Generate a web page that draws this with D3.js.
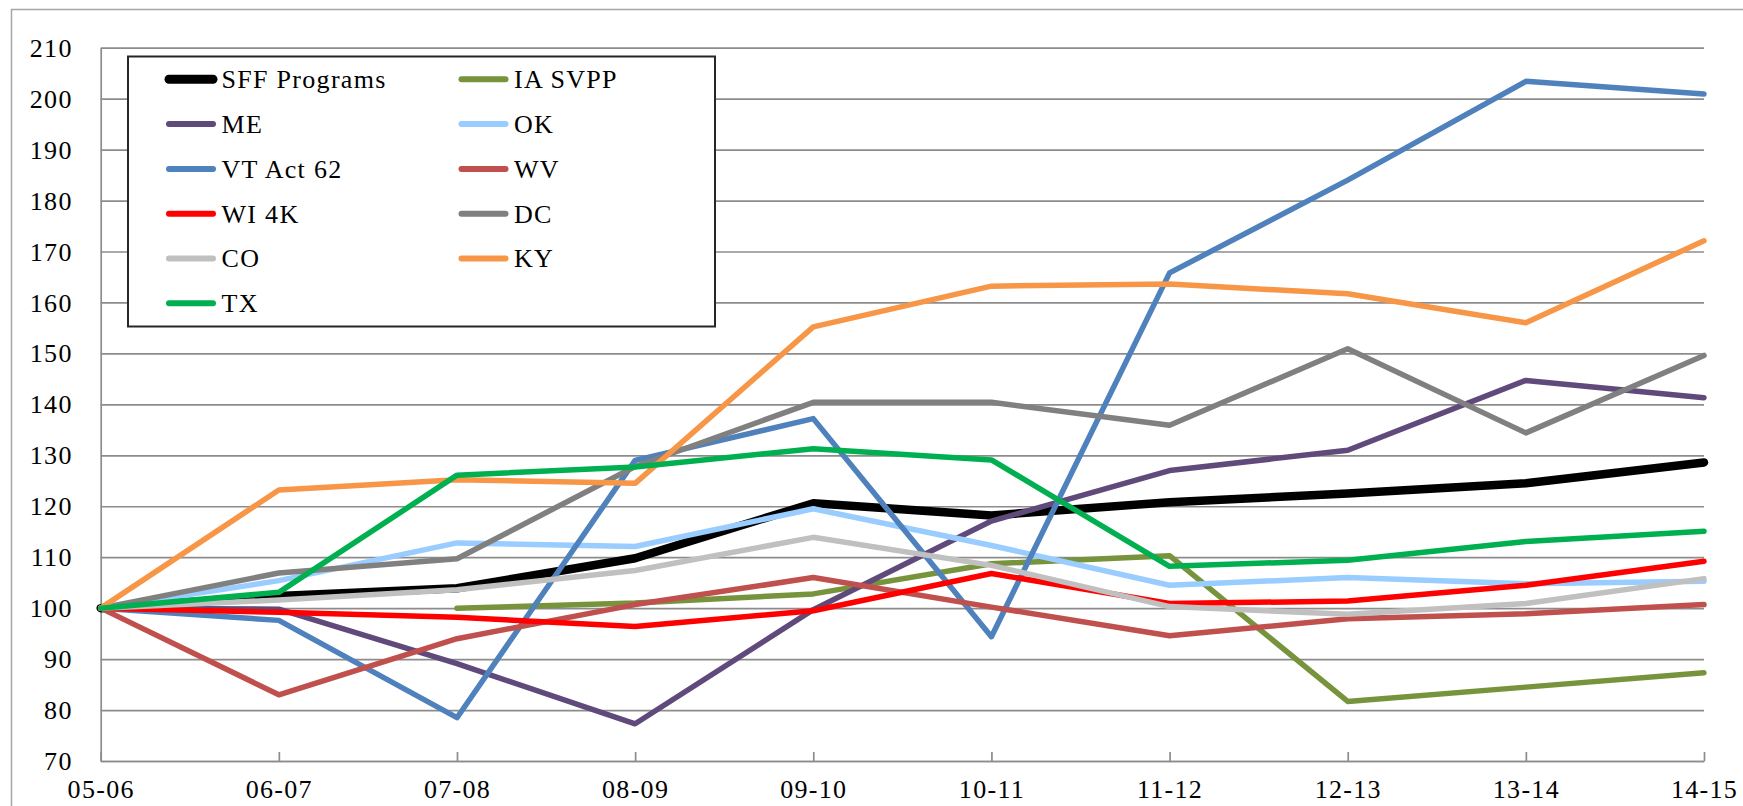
<!DOCTYPE html>
<html>
<head>
<meta charset="utf-8">
<script src="https://cdn.jsdelivr.net/npm/d3@7"></script>
<style>
  html, body { margin: 0; padding: 0; background: #ffffff; }
  svg { display: block; }
  text { font-family: "Liberation Serif", "Times New Roman", serif; fill: #000; }
</style>
</head>
<body>
<svg id="chart" width="1743" height="806"></svg>
<script>
// ---- data ----
const categories = ["05-06","06-07","07-08","08-09","09-10","10-11","11-12","12-13","13-14","14-15"];
const yTickValues = [70,80,90,100,110,120,130,140,150,160,170,180,190,200,210];

const sffPrograms = [100, 102.4, 103.9, 109.8, 120.6, 118.2, 120.8, 122.5, 124.5, 128.6];
const iaSvpp      = [null, null, 100, 101.0, 102.8, 108.7, 110.3, 81.7, 84.5, 87.3];
const me          = [100, 99.8, 89.1, 77.3, 99.7, 117.1, 127.0, 131.0, 144.7, 141.3];
const ok          = [100, 105.4, 112.8, 112.1, 119.5, 112.3, 104.5, 106.0, 104.8, 105.3];
const vtAct62     = [100, 97.6, 78.5, 129.0, 137.2, 94.4, 165.8, 184.0, 203.4, 200.9];
const wv          = [100, 83.0, 94.0, 100.7, 106.0, 100.2, 94.6, 97.9, 98.9, 100.7];
const wi4k        = [100, 99.2, 98.2, 96.4, 99.5, 106.8, 100.9, 101.4, 104.5, 109.2];
const dc          = [100, 106.9, 109.7, 127.8, 140.4, 140.4, 135.9, 150.9, 134.4, 149.6];
const co          = [100, 101.6, 103.6, 107.4, 113.9, 108.4, 100.3, 98.8, 100.9, 105.8];
const ky          = [100, 123.2, 125.2, 124.5, 155.2, 163.2, 163.6, 161.7, 156.0, 172.1];
const tx          = [100, 103.1, 126.1, 127.7, 131.3, 129.1, 108.2, 109.4, 113.1, 115.1];

const seriesNames  = ["SFF Programs","IA SVPP","ME","OK","VT Act 62","WV","WI 4K","DC","CO","KY","TX"];
const seriesValues = [sffPrograms, iaSvpp, me, ok, vtAct62, wv, wi4k, dc, co, ky, tx];
const seriesColors = ["#000000","#77933C","#604A7B","#99CCFF","#4F81BD","#C0504D","#FF0000","#808080","#C0C0C0","#F79646","#00B050"];
const seriesWidths = [8.5, 5.5, 5.5, 5.5, 5.5, 5.5, 5.5, 5.5, 5.5, 5.5, 5.5];

// ---- layout ----
const svg = d3.select("#chart");
const plot = { left: 100.7, right: 1704, top: 47.7, bottom: 761 };
const gridColor = "#8c8c8c";
const fontSize = 26;
const letterSpacing = 1.3;

svg.append("rect").attr("width", 1743).attr("height", 806).attr("fill", "#fff");

// outer chart border (extends past the right/bottom edges)
svg.append("rect")
  .attr("x", 11.5).attr("y", 9.5)
  .attr("width", 1900).attr("height", 900)
  .attr("fill", "none").attr("stroke", "#a6a6a6").attr("stroke-width", 1.5);

const x = d3.scalePoint().domain(categories).range([plot.left, plot.right]);
const y = d3.scaleLinear().domain([70, 210]).range([plot.bottom, plot.top]);

// y axis with gridlines
const yAxisG = svg.append("g")
  .attr("transform", `translate(${plot.left},0)`)
  .call(d3.axisLeft(y).tickValues(yTickValues)
    .tickSize(-(plot.right - plot.left)).tickSizeOuter(0).tickPadding(28));
yAxisG.selectAll(".tick line").attr("stroke", gridColor).attr("stroke-width", 1.7);
yAxisG.select(".domain").attr("stroke", gridColor).attr("stroke-width", 1.7);
yAxisG.selectAll(".tick text")
  .attr("font-family", "Liberation Serif, serif")
  .attr("font-size", fontSize)
  .attr("letter-spacing", letterSpacing)
  .attr("fill", "#000")
  .attr("dy", "0.33em");

// x axis with inside ticks
const xAxisG = svg.append("g")
  .attr("transform", `translate(0,${plot.bottom})`)
  .call(d3.axisBottom(x).tickSize(-9).tickSizeOuter(0).tickPadding(19));
xAxisG.selectAll(".tick line").attr("stroke", gridColor).attr("stroke-width", 1.7);
xAxisG.select(".domain").attr("stroke", gridColor).attr("stroke-width", 1.7);
xAxisG.selectAll(".tick text")
  .attr("font-family", "Liberation Serif, serif")
  .attr("font-size", fontSize)
  .attr("letter-spacing", letterSpacing)
  .attr("fill", "#000");

// series lines
const line = d3.line()
  .defined(d => d.v !== null)
  .x(d => x(d.c))
  .y(d => y(d.v));

const linesG = svg.append("g");
seriesValues.forEach((vals, i) => {
  const pts = vals.map((v, j) => ({ c: categories[j], v: v }));
  linesG.append("path")
    .datum(pts)
    .attr("d", line)
    .attr("fill", "none")
    .attr("stroke", seriesColors[i])
    .attr("stroke-width", seriesWidths[i])
    .attr("stroke-linejoin", "round")
    .attr("stroke-linecap", "round");
});

// legend
const legend = { x: 128, y: 56.5, w: 587, h: 270 };
const lg = svg.append("g");
lg.append("rect")
  .attr("x", legend.x).attr("y", legend.y)
  .attr("width", legend.w).attr("height", legend.h)
  .attr("fill", "#fff").attr("stroke", "#262626").attr("stroke-width", 2);

const colLineX = [[169, 213], [461.5, 505.5]];
const colTextX = [221.5, 514];
const rowY0 = 79.3, rowStep = 44.8;
seriesNames.forEach((name, i) => {
  const col = i % 2, row = Math.floor(i / 2);
  const cy = rowY0 + row * rowStep;
  lg.append("line")
    .attr("x1", colLineX[col][0]).attr("x2", colLineX[col][1])
    .attr("y1", cy).attr("y2", cy)
    .attr("stroke", seriesColors[i])
    .attr("stroke-width", i === 0 ? 9 : 6)
    .attr("stroke-linecap", "round");
  lg.append("text")
    .attr("x", colTextX[col]).attr("y", cy + 8.8)
    .attr("font-size", fontSize)
    .attr("letter-spacing", letterSpacing)
    .text(name);
});
</script>
</body>
</html>
